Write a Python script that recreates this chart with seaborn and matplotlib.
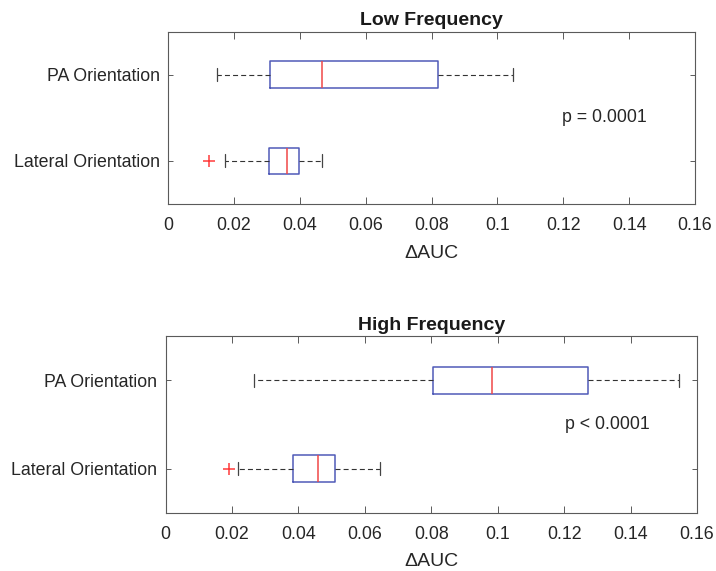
import numpy as np
import pandas as pd
import matplotlib
matplotlib.use("Agg")
import matplotlib.pyplot as plt
import seaborn as sns

# ---------------- data ----------------
categories = ["Lateral Orientation", "PA Orientation"]
panel_titles = ["Low Frequency", "High Frequency"]
p_texts = ["p = 0.0001", "p < 0.0001"]
x_label = "\u0394AUC"
x_ticks = [0, 0.02, 0.04, 0.06, 0.08, 0.10, 0.12, 0.14, 0.16]
x_tick_labels = ["0", "0.02", "0.04", "0.06", "0.08", "0.1", "0.12", "0.14", "0.16"]

# five-number summaries, order: [Lateral, PA]
low_whislo = [0.0172, 0.0148]
low_q1 = [0.0307, 0.0310]
low_med = [0.0362, 0.0468]
low_q3 = [0.0398, 0.0819]
low_whishi = [0.0468, 0.1046]
low_outliers = [[0.0123], []]

high_whislo = [0.0218, 0.0267]
high_q1 = [0.0385, 0.0804]
high_med = [0.0460, 0.0982]
high_q3 = [0.0509, 0.1273]
high_whishi = [0.0647, 0.1547]
high_outliers = [[0.0190], []]

p_pos_x = [0.1195, 0.1202]
p_pos_y = [1.5, 1.5]

panels = [
    (low_whislo, low_q1, low_med, low_q3, low_whishi, low_outliers),
    (high_whislo, high_q1, high_med, high_q3, high_whishi, high_outliers),
]

# ---------------- style ----------------
sns.set_theme(style="white")
plt.rcParams["font.family"] = ["Liberation Sans", "DejaVu Sans"]
text_col = "#262626"
axis_col = "#5a5a5a"

fig = plt.figure(figsize=(7.16, 5.71), dpi=100)
rects = [
    [168 / 716, 1 - 204 / 571, (695 - 168) / 716, (204 - 31.6) / 571],
    [165.5 / 716, 1 - 513 / 571, (697 - 165.5) / 716, (513 - 336) / 571],
]
label_pads = [8.0, 7.0]
title_pads = [5.0, 4.5]

positions = [1, 2]
for i, (wl, q1, med, q3, wh, outl) in enumerate(panels):
    ax = fig.add_axes(rects[i])
    stats = []
    for j in range(len(categories)):
        stats.append(dict(whislo=wl[j], q1=q1[j], med=med[j], q3=q3[j],
                          whishi=wh[j], fliers=[], label=categories[j]))
    ax.bxp(stats, positions=positions, widths=0.31, orientation="horizontal",
           showfliers=False, capwidths=0.15,
           boxprops=dict(color="#4f5ab8", linewidth=1.1),
           medianprops=dict(color="#f04848", linewidth=1.1),
           whiskerprops=dict(color="#333333", linewidth=0.8,
                             linestyle=(0, (4.5, 2.8))),
           capprops=dict(color="#444444", linewidth=0.9))
    # outliers
    fl_x, fl_y = [], []
    for j in range(len(categories)):
        for v in outl[j]:
            fl_x.append(v)
            fl_y.append(positions[j])
    if fl_x:
        df = pd.DataFrame({"x": fl_x, "y": fl_y})
        sns.scatterplot(data=df, x="x", y="y", marker="+", s=80,
                        color="#ff3a3a", linewidth=1.1, ax=ax, legend=False)
    ax.set_xlim(0, 0.16)
    ax.set_ylim(0.5, 2.5)
    ax.set_xticks(x_ticks)
    ax.set_xticklabels(x_tick_labels)
    ax.set_yticks(positions)
    ax.set_yticklabels(categories)
    ax.tick_params(axis="x", direction="in", length=5, width=0.7,
                   top=True, bottom=True, colors=axis_col,
                   labelcolor=text_col, labelsize=12.8, pad=9.5)
    ax.tick_params(axis="y", direction="in", length=3.6, width=0.7,
                   left=True, right=True, colors=axis_col,
                   labelcolor=text_col, labelsize=12.8, pad=6)
    for sp in ax.spines.values():
        sp.set_visible(True)
        sp.set_color(axis_col)
        sp.set_linewidth(0.8)
    ax.set_xlabel(x_label, fontsize=14, color=text_col, labelpad=label_pads[i])
    ax.set_ylabel("")
    ax.set_title(panel_titles[i], fontsize=14, fontweight="bold",
                 color="#1a1a1a", pad=title_pads[i])
    ax.text(p_pos_x[i], p_pos_y[i], p_texts[i], fontsize=12.8,
            color=text_col, ha="left", va="center")

fig.savefig("out.png", dpi=100)
